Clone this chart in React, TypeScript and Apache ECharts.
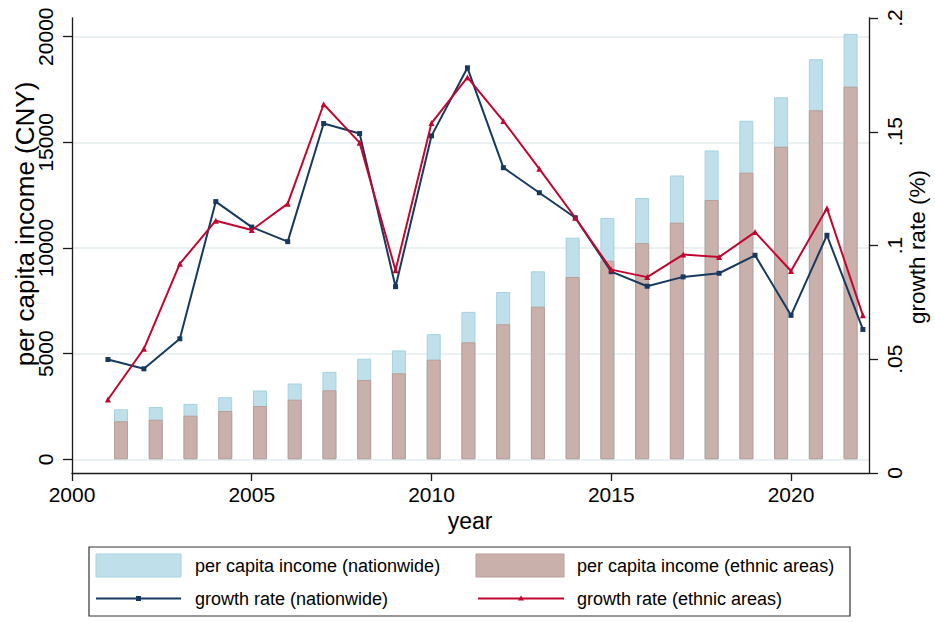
import React, { useEffect, useRef } from "react";
import * as echarts from "echarts";

const years = [2001, 2002, 2003, 2004, 2005, 2006, 2007, 2008, 2009, 2010, 2011, 2012, 2013, 2014, 2015, 2016, 2017, 2018, 2019, 2020, 2021, 2022];
const incomeNationwide = [2366, 2476, 2622, 2936, 3255, 3587, 4140, 4761, 5153, 5919, 6977, 7917, 8896, 10489, 11422, 12363, 13432, 14617, 16021, 17131, 18931, 20133];
const incomeEthnic = [1798, 1875, 2065, 2286, 2522, 2822, 3264, 3753, 4069, 4715, 5536, 6389, 7223, 8628, 9399, 10230, 11197, 12272, 13564, 14794, 16517, 17634];
const growthNationwide = [0.0499, 0.0458, 0.059, 0.1193, 0.1081, 0.1017, 0.1536, 0.1492, 0.0819, 0.1482, 0.1781, 0.1342, 0.1232, 0.1122, 0.0885, 0.0821, 0.0862, 0.0878, 0.0957, 0.0693, 0.1045, 0.0631];
const growthEthnic = [0.0323, 0.0546, 0.092, 0.1109, 0.1068, 0.1184, 0.1621, 0.1452, 0.0891, 0.1538, 0.1739, 0.1547, 0.1337, 0.1122, 0.0894, 0.0861, 0.096, 0.0949, 0.1059, 0.0888, 0.1164, 0.0693];

const xTicks = [2000, 2005, 2010, 2015, 2020];
const incomeTicks = [0, 5000, 10000, 15000, 20000];

const nameBarNat = "per capita income (nationwide)";
const nameBarEth = "per capita income (ethnic areas)";
const nameLineNat = "growth rate (nationwide)";
const nameLineEth = "growth rate (ethnic areas)";
const leftTitle = "per capita income (CNY)";
const rightTitle = "growth rate (%)";
const xTitle = "year";

const FONT = "'Liberation Sans', Arial, Helvetica, sans-serif";
const BLUE_FILL = "#bfe0ea";
const BLUE_EDGE = "#a5d2de";
const BROWN_FILL = "#c9b0ab";
const BROWN_EDGE = "#b99d98";
const NAVY = "#17395f";
const RED = "#c1072f";
const AXIS = "#1a1a1a";

export default function App() {
  const ref = useRef<HTMLDivElement>(null);

  useEffect(() => {
    document.body.style.margin = "0";
    if (!ref.current) return;
    const chart = echarts.init(ref.current, undefined, { renderer: "svg" });

    const rateFmt = (v: number) => {
      const s = Number(v.toFixed(2)).toString();
      return s === "0" ? "0" : s.replace(/^0\./, ".");
    };

    const option: any = {
      animation: false,
      textStyle: { fontFamily: FONT },
      grid: { left: 72, right: 66, top: 18, bottom: 149, containLabel: false },
      xAxis: [
        {
          type: "value",
          min: 2000,
          max: 2022.17,
          position: "bottom",
          axisLine: { show: true, onZero: false, lineStyle: { color: AXIS, width: 1.3 } },
          axisTick: { show: true, length: 8, customValues: xTicks, lineStyle: { color: AXIS, width: 1.3 } },
          axisLabel: { color: "#000", fontSize: 21, margin: 11, customValues: xTicks, formatter: (v: number) => String(v) },
          splitLine: { show: false },
        },
        {
          type: "value",
          min: 1999.59,
          max: 2022.53,
          position: "top",
          show: false,
          splitLine: { show: false },
        },
      ],
      yAxis: [
        {
          type: "value",
          min: -648,
          max: 20885,
          position: "left",
          axisLine: { show: true, onZero: false, lineStyle: { color: AXIS, width: 1.3 } },
          axisTick: { show: true, length: 9, customValues: incomeTicks, lineStyle: { color: AXIS, width: 1.3 } },
          axisLabel: { color: "#000", fontSize: 21, margin: 16, rotate: 90, customValues: incomeTicks, formatter: (v: number) => String(v) },
          splitLine: { show: true, lineStyle: { color: "#e3ecef", width: 1.6 } },
        },
        {
          type: "value",
          min: 0,
          max: 0.2,
          interval: 0.05,
          position: "right",
          axisLine: { show: true, onZero: false, lineStyle: { color: AXIS, width: 1.3 } },
          axisTick: { show: true, length: 9, lineStyle: { color: AXIS, width: 1.3 } },
          axisLabel: { color: "#000", fontSize: 21, margin: 15, rotate: 90, formatter: rateFmt },
          splitLine: { show: false },
        },
      ],
      series: [
        {
          name: nameBarNat,
          type: "bar",
          xAxisIndex: 1,
          yAxisIndex: 0,
          barWidth: 14,
          barGap: "-100%",
          z: 2,
          itemStyle: { color: BLUE_FILL, borderColor: BLUE_EDGE, borderWidth: 1 },
          data: years.map((y, i) => [y, incomeNationwide[i]]),
        },
        {
          name: nameBarEth,
          type: "bar",
          xAxisIndex: 1,
          yAxisIndex: 0,
          barWidth: 14,
          barGap: "-100%",
          z: 3,
          itemStyle: { color: BROWN_FILL, borderColor: BROWN_EDGE, borderWidth: 1 },
          data: years.map((y, i) => [y, incomeEthnic[i]]),
        },
        {
          name: nameLineNat,
          type: "line",
          xAxisIndex: 0,
          yAxisIndex: 1,
          z: 5,
          symbol: "rect",
          symbolSize: 5,
          showAllSymbol: true,
          lineStyle: { color: NAVY, width: 2 },
          itemStyle: { color: NAVY },
          data: years.map((y, i) => [y, growthNationwide[i]]),
        },
        {
          name: nameLineEth,
          type: "line",
          xAxisIndex: 0,
          yAxisIndex: 1,
          z: 6,
          symbol: "triangle",
          symbolSize: 6,
          showAllSymbol: true,
          lineStyle: { color: RED, width: 2 },
          itemStyle: { color: RED },
          data: years.map((y, i) => [y, growthEthnic[i]]),
        },
      ],
      graphic: [
        {
          type: "text",
          x: 25,
          y: 224,
          rotation: Math.PI / 2,
          style: { text: leftTitle, fontSize: 26, fill: "#000", align: "center", verticalAlign: "middle", fontFamily: FONT },
        },
        {
          type: "text",
          x: 917,
          y: 247,
          rotation: Math.PI / 2,
          style: { text: rightTitle, fontSize: 22.5, fill: "#000", align: "center", verticalAlign: "middle", fontFamily: FONT },
        },
        {
          type: "text",
          x: 470,
          y: 521,
          style: { text: xTitle, fontSize: 23, fill: "#000", align: "center", verticalAlign: "middle", fontFamily: FONT },
        },
        {
          type: "group",
          children: [
            {
              type: "rect",
              shape: { x: 89, y: 547, width: 761, height: 69 },
              style: { fill: "#fff", stroke: "#333", lineWidth: 1.2 },
            },
            {
              type: "rect",
              shape: { x: 96, y: 554, width: 85, height: 23 },
              style: { fill: BLUE_FILL, stroke: BLUE_EDGE, lineWidth: 1 },
            },
            {
              type: "rect",
              shape: { x: 476, y: 554, width: 88, height: 23 },
              style: { fill: BROWN_FILL, stroke: BROWN_EDGE, lineWidth: 1 },
            },
            {
              type: "line",
              shape: { x1: 96, y1: 598.5, x2: 181, y2: 598.5 },
              style: { stroke: NAVY, lineWidth: 2 },
            },
            {
              type: "rect",
              shape: { x: 136, y: 596, width: 5, height: 5 },
              style: { fill: NAVY },
            },
            {
              type: "line",
              shape: { x1: 478, y1: 598.5, x2: 564, y2: 598.5 },
              style: { stroke: RED, lineWidth: 2 },
            },
            {
              type: "polygon",
              shape: { points: [[521, 595.5], [524, 600.5], [518, 600.5]] },
              style: { fill: RED },
            },
            {
              type: "text",
              x: 195,
              y: 565.5,
              style: { text: nameBarNat, fontSize: 18, fill: "#000", align: "left", verticalAlign: "middle", fontFamily: FONT },
            },
            {
              type: "text",
              x: 577,
              y: 565.5,
              style: { text: nameBarEth, fontSize: 18, fill: "#000", align: "left", verticalAlign: "middle", fontFamily: FONT },
            },
            {
              type: "text",
              x: 195,
              y: 598.5,
              style: { text: nameLineNat, fontSize: 18, fill: "#000", align: "left", verticalAlign: "middle", fontFamily: FONT },
            },
            {
              type: "text",
              x: 577,
              y: 598.5,
              style: { text: nameLineEth, fontSize: 18, fill: "#000", align: "left", verticalAlign: "middle", fontFamily: FONT },
            },
          ],
        },
      ],
    };

    chart.setOption(option);
    return () => {
      chart.dispose();
    };
  }, []);

  return <div ref={ref} style={{ width: 935, height: 622, background: "#fff" }} />;
}
